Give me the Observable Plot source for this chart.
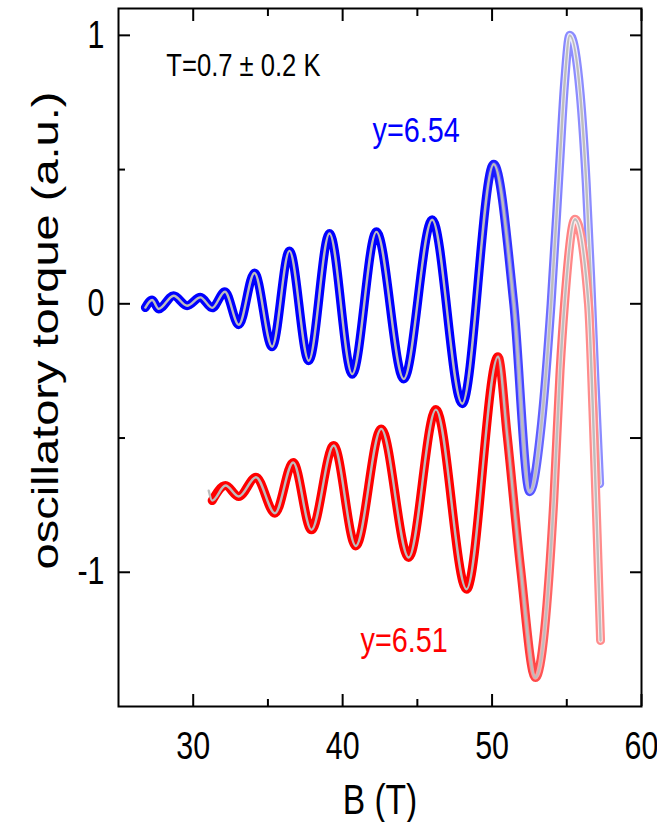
<!DOCTYPE html>
<html><head><meta charset="utf-8">
<script src="https://cdn.jsdelivr.net/npm/d3@7"></script>
<script src="https://cdn.jsdelivr.net/npm/@observablehq/plot@0.6"></script>
<style>body{margin:0;background:#fff}</style>
</head><body><div id="chart"></div>
<script>
// y = 6.54 sample (blue): field B (T) and oscillatory torque (a.u.)
const blueB = [26.8, 27.25, 27.69, 28.69, 29.59, 30.48, 31.27, 32.12, 33.05, 34.10, 35.28, 36.44, 37.73, 39.12, 40.64, 42.26, 44.09, 45.99, 48.0, 50.11, 51.45, 52.52, 53.3, 53.95, 54.5, 54.85, 55.2, 55.9, 56.3, 56.6, 56.9, 57.2];
const blueV = [-0.014, 0.014, -0.019, 0.03, -0.007, 0.024, -0.015, 0.045, -0.078, 0.115, -0.16, 0.197, -0.212, 0.262, -0.262, 0.268, -0.28, 0.313, -0.372, 0.52, 0.0, -0.70, -0.45, 0.0, 0.5, 0.82, 1.0, 0.78, 0.45, 0.1, -0.3, -0.67];
// y = 6.51 sample (red)
const redB = [31.27, 32.16, 33.05, 34.20, 35.47, 36.69, 37.91, 39.40, 40.88, 42.58, 44.42, 46.24, 48.29, 50.40, 51.0, 51.9, 52.9, 54.13, 54.55, 54.85, 55.55, 56.45, 56.75, 57.03, 57.26];
const redV = [-0.733, -0.677, -0.718, -0.646, -0.78, -0.591, -0.842, -0.528, -0.902, -0.466, -0.945, -0.394, -1.063, -0.197, -0.485, -0.981, -1.392, -0.733, -0.25, 0.0, 0.315, 0.0, -0.4, -0.856, -1.254];
// the grey fit for y = 6.51 begins slightly before the data
const redFitStartB = [31.04];
const redFitStartV = [-0.696];
const xMajor = [30, 40, 50, 60];
const xMinor = [35, 45, 55];
const yMajor = [1, 0, -1];
const yMinor = [0.5, -0.5];
const labelText = ["T=0.7 \u00b1 0.2 K", "y=6.54", "y=6.51"];
const labelB = [28.2, 42.0, 41.2];
const labelV = [0.886, 0.644, -1.254];
const xTitle = "B (T)";
const yTitle = "oscillatory torque (a.u.)";

const blue = blueB.map((b, i) => ({B: b, v: blueV[i]}));
const red = redB.map((b, i) => ({B: b, v: redV[i]}));
const redFit = redFitStartB.map((b, i) => ({B: b, v: redFitStartV[i]})).concat(red);
const labels = labelText.map((t, i) => ({t, B: labelB[i], v: labelV[i]}));

const font = "'Liberation Sans',Arial,sans-serif";
const curve = "monotone-x";

const plot = Plot.plot({
  width: 657, height: 822,
  marginLeft: 118, marginRight: 16, marginTop: 8, marginBottom: 116,
  x: {domain: [25, 60]},
  y: {domain: [-1.5, 1.1]},
  style: {background: "white", color: "black"},
  marks: [
    Plot.line(blue, {x: "B", y: "v", stroke: "url(#bOuter)", strokeWidth: 9, curve}),
    Plot.line(blue, {x: "B", y: "v", stroke: "url(#bInner)", strokeWidth: 4.5, curve}),
    Plot.line(blue, {x: "B", y: "v", stroke: "#bdbdbd", strokeWidth: 2.4, curve}),
    Plot.line(red, {x: "B", y: "v", stroke: "url(#rOuter)", strokeWidth: 9, curve}),
    Plot.line(red, {x: "B", y: "v", stroke: "url(#rInner)", strokeWidth: 4.5, curve}),
    Plot.line(redFit, {x: "B", y: "v", stroke: "#bdbdbd", strokeWidth: 2.4, curve}),
    Plot.frame({stroke: "black", strokeWidth: 2}),
    Plot.axisX(xMajor, {anchor: "bottom", tickSize: -12, fill: "none", strokeWidth: 2}),
    Plot.axisX(xMinor, {anchor: "bottom", tickSize: -7, fill: "none", strokeWidth: 2}),
    Plot.axisX(xMajor, {anchor: "top", tickSize: -12, fill: "none", strokeWidth: 2}),
    Plot.axisX(xMinor, {anchor: "top", tickSize: -7, fill: "none", strokeWidth: 2}),
    Plot.axisY(yMajor, {anchor: "left", tickSize: -12, fill: "none", strokeWidth: 2}),
    Plot.axisY(yMinor, {anchor: "left", tickSize: -7, fill: "none", strokeWidth: 2}),
    Plot.axisY(yMajor, {anchor: "right", tickSize: -12, fill: "none", strokeWidth: 2}),
    Plot.axisY(yMinor, {anchor: "right", tickSize: -12, fill: "none", strokeWidth: 2}),
    Plot.axisX(xMajor, {anchor: "bottom", tickSize: 0, tickPadding: 26, fontSize: 38, fontFamily: font, label: null, tickFormat: d => String(d)}),
    Plot.axisY(yMajor, {anchor: "left", tickSize: 0, tickPadding: 14, fontSize: 38, fontFamily: font, label: null, tickFormat: d => String(d)}),
    Plot.text([xTitle], {frameAnchor: "bottom", dy: 94, lineAnchor: "middle", fontSize: 42, fontFamily: font, fill: "black"}),
    Plot.text([yTitle], {frameAnchor: "left", rotate: -90, dx: -73, dy: -27, textAnchor: "middle", lineAnchor: "middle", fontSize: 47, fontFamily: font, fill: "black"}),
    Plot.text([labels[0]], {x: "B", y: "v", text: "t", textAnchor: "start", fontSize: 32, fontFamily: font, fill: "black"}),
    Plot.text([labels[1]], {x: "B", y: "v", text: "t", textAnchor: "start", fontSize: 36, fontFamily: font, fill: "#0000ff"}),
    Plot.text([labels[2]], {x: "B", y: "v", text: "t", textAnchor: "start", fontSize: 36, fontFamily: font, fill: "#ff0000"})
  ]
});

// gradients along the field axis: open markers thin out at high field, so the bands lighten
const sx = plot.scale("x");
const defs = d3.select(plot).insert("defs", ":first-child");
function grad(id, b0, b1, c0, c1, o0, o1) {
  const g = defs.append("linearGradient").attr("id", id).attr("gradientUnits", "userSpaceOnUse")
    .attr("x1", sx.apply(b0)).attr("x2", sx.apply(b1)).attr("y1", 0).attr("y2", 0);
  g.append("stop").attr("offset", 0).attr("stop-color", c0).attr("stop-opacity", o0);
  g.append("stop").attr("offset", 1).attr("stop-color", c1).attr("stop-opacity", o1);
}
grad("bOuter", 49, 55, "#0000ff", "#8c8cff", 1, 1);
grad("bInner", 49, 55, "#ececff", "#ececff", 0, 1);
grad("rOuter", 50, 55.5, "#ff0000", "#ff8c8c", 1, 1);
grad("rInner", 50, 55.5, "#ffe8e8", "#ffe8e8", 0, 1);

// the reference figure is horizontally compressed: condense glyphs to match
plot.querySelectorAll("text").forEach(el => {
  const t = el.getAttribute("transform");
  if (t == null) return;
  el.setAttribute("transform", t + (t.includes("rotate") ? " scale(1,0.8)" : " scale(0.8,1)"));
});
document.getElementById("chart").appendChild(plot);
</script>
</body></html>
